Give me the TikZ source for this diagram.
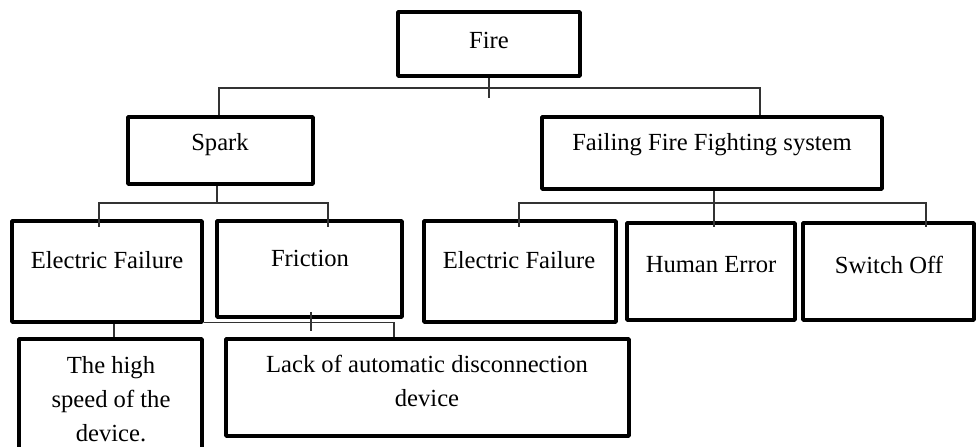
\documentclass[tikz,border=0pt]{standalone}
\usepackage{fontspec}
\setmainfont{Liberation Serif}
\begin{document}
\begin{tikzpicture}[x=1pt,y=-1pt,
  box/.style={draw,line width=3.6pt,line join=round,inner sep=0pt},
  conn/.style={draw,line width=1.2pt,black!80},
  lbl/.style={font=\fontsize{24.6}{34}\selectfont,align=center,inner sep=0pt}]
\useasboundingbox (0,0) rectangle (977,447);
\clip (0,0) rectangle (977,447);
% boxes
\node[box,minimum width=182pt,minimum height=64pt] (fire) at (489,44) {};
\node[box,minimum width=185pt,minimum height=67pt] (spark) at (220.5,150.5) {};
\node[box,minimum width=340pt,minimum height=72pt] (failing) at (712,153) {};
\node[box,minimum width=190pt,minimum height=101pt] (ef1) at (107,271.5) {};
\node[box,minimum width=185pt,minimum height=96pt] (fric) at (309.5,269) {};
\node[box,minimum width=192pt,minimum height=101pt] (ef2) at (520,271.5) {};
\node[box,minimum width=168pt,minimum height=97pt] (human) at (711,271.5) {};
\node[box,minimum width=171pt,minimum height=97pt] (switch) at (888.5,271.5) {};
\node[box,minimum width=183pt,minimum height=131pt] (high) at (110.5,404.5) {};
\node[box,minimum width=403pt,minimum height=97pt] (lack) at (427.5,387.5) {};
% labels
\node[lbl] (tfire) at (489,40) {Fire};
\node[lbl] (tspark) at (220,145) {Spark};
\node[lbl] (tfailing) at (712,145) {Failing Fire Fighting system};
\node[lbl] (tef1) at (107,260) {Electric Failure};
\node[lbl] (tfric) at (310,258) {Friction};
\node[lbl] (tef2) at (519,260) {Electric Failure};
\node[lbl] (thuman) at (711,265) {Human Error};
\node[lbl] (tswitch) at (889,265) {Switch Off};
\node[lbl] (thigh) at (111,399) {The high\\speed of the\\device.};
\node[lbl] (tlack) at (427,381) {Lack of automatic disconnection\\device};
% junctions
\coordinate (j1) at (489,88);
\coordinate (j2) at (217,203);
\coordinate (j3) at (714,203);
% connectors
\draw[conn] (fire.south) -- ++(0,20);
\draw[conn] ([xshift=-1.5pt]spark.north) |- (j1) -| ([xshift=48pt]failing.north);
\draw[conn] ([xshift=-3.5pt]spark.south) -- (j2);
\draw[conn] ([xshift=-8pt,yshift=-8pt]ef1.north) |- (j2) -| ([xshift=18.5pt,yshift=-8pt]fric.north);
\draw[conn] ([xshift=2pt]failing.south) -- ([xshift=3pt,yshift=-6pt]human.north);
\draw[conn] ([xshift=-1pt,yshift=-8pt]ef2.north) |- (j3) -| ([xshift=37.5pt,yshift=-6pt]switch.north);
\draw[conn] ([xshift=7pt]ef1.south) -- ([xshift=3.5pt]high.north);
\draw[conn] ([yshift=1pt]ef1.south east) -| ([xshift=-33.5pt]lack.north);
\draw[conn] ([xshift=1.5pt,yshift=7pt]fric.south) -- ([xshift=1.5pt,yshift=-12pt]fric.south);
\end{tikzpicture}
\end{document}
